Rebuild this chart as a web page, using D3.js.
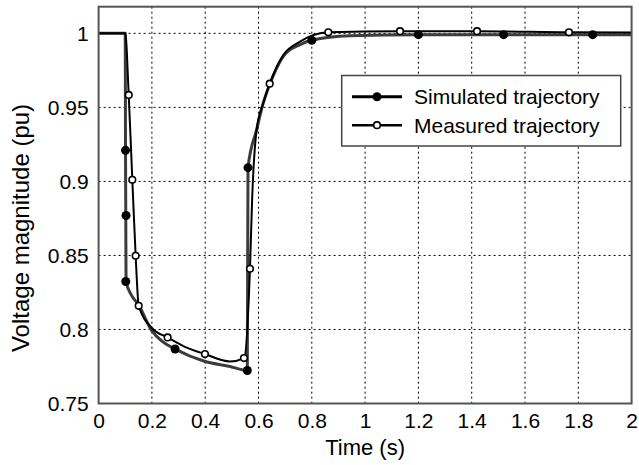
<!DOCTYPE html>
<html>
<head>
<meta charset="utf-8">
<script src="https://cdn.jsdelivr.net/npm/d3@7"></script>
<style>
  body { margin: 0; background: #fff; }
  text { font-family: "Liberation Sans", Arial, sans-serif; fill: #000; }
</style>
</head>
<body>
<svg id="chart" width="639" height="465"></svg>
<script>
// simulated trajectory (thick grey line) - [time s, voltage pu]
const simLine = [
  [0, 1.0], [0.100, 1.0], [0.101, 0.921], [0.102, 0.877], [0.103, 0.8324],
  [0.122, 0.8235], [0.150, 0.8166], [0.200, 0.799], [0.240, 0.7918],
  [0.287, 0.7868], [0.400, 0.7784], [0.493, 0.775], [0.558, 0.7723],
  [0.5606, 0.9093], [0.593, 0.935], [0.618, 0.953], [0.642, 0.9655],
  [0.693, 0.9845], [0.756, 0.9924], [0.80, 0.9953], [0.943, 0.9984],
  [1.2, 0.9991], [1.52, 0.9991], [1.85, 0.9991], [2.0, 0.9991]
];
const simMarkers = [
  [0.101, 0.921], [0.103, 0.877], [0.102, 0.8324], [0.287, 0.7868],
  [0.558, 0.7723], [0.5606, 0.9093], [0.80, 0.9953], [1.2, 0.9991],
  [1.52, 0.9991], [1.854, 0.9991]
];

// measured trajectory (thin black line)
const measLine = [
  [0, 1.0], [0.100, 1.0], [0.113, 0.9584], [0.1265, 0.9011], [0.139, 0.8498],
  [0.1505, 0.816], [0.200, 0.801], [0.259, 0.7946], [0.324, 0.7883],
  [0.399, 0.7834], [0.493, 0.7784], [0.5455, 0.7807], [0.568, 0.841],
  [0.576, 0.8875], [0.593, 0.935], [0.618, 0.953], [0.642, 0.966],
  [0.693, 0.9854], [0.756, 0.9944], [0.862, 1.0007], [1.131, 1.0015],
  [1.42, 1.0015], [1.765, 1.0007], [2.0, 1.0005]
];
const measMarkers = [
  [0.113, 0.9584], [0.1265, 0.9011], [0.139, 0.8498], [0.1505, 0.816],
  [0.259, 0.7946], [0.399, 0.7834], [0.5455, 0.7807], [0.568, 0.841],
  [0.642, 0.966], [0.862, 1.0007], [1.131, 1.0015], [1.42, 1.0015],
  [1.765, 1.0007]
];

const xTicks = [0, 0.2, 0.4, 0.6, 0.8, 1, 1.2, 1.4, 1.6, 1.8, 2];
const yTicks = [0.75, 0.8, 0.85, 0.9, 0.95, 1];
const legendLabels = ["Simulated trajectory", "Measured trajectory"];

const svg = d3.select("#chart");
const L = 98.6, R = 631.6, T = 6.7, B = 403.5;

const x = d3.scaleLinear().domain([0, 2]).range([L, R]);
const y = d3.scaleLinear().domain([0.75, 1.018]).range([B, T]);

// grid (dotted)
svg.append("g").selectAll("line")
  .data(xTicks.slice(1, -1)).join("line")
  .attr("x1", d => x(d)).attr("x2", d => x(d))
  .attr("y1", T).attr("y2", B)
  .attr("stroke", "#000").attr("stroke-width", 1)
  .attr("stroke-dasharray", "2,3");
svg.append("g").selectAll("line")
  .data(yTicks.slice(1)).join("line")
  .attr("x1", L).attr("x2", R)
  .attr("y1", d => y(d)).attr("y2", d => y(d))
  .attr("stroke", "#000").attr("stroke-width", 1)
  .attr("stroke-dasharray", "2,3");

// axes labels
const xAxis = d3.axisBottom(x).tickValues(xTicks).tickSize(0).tickPadding(10)
  .tickFormat(d => String(+d.toFixed(1)));
const gx = svg.append("g").attr("transform", `translate(0,${B})`).call(xAxis);
gx.select(".domain").remove();
gx.selectAll("text").style("font-size", "21px").attr("dy", "0.68em");

const yAxis = d3.axisLeft(y).tickValues(yTicks).tickSize(0).tickPadding(10)
  .tickFormat(d => String(+d.toFixed(2)));
const gy = svg.append("g").attr("transform", `translate(${L},0)`).call(yAxis);
gy.select(".domain").remove();
gy.selectAll("text").style("font-size", "21px");

// lines
const line = d3.line().x(d => x(d[0])).y(d => y(d[1])).curve(d3.curveMonotoneX);
svg.append("path").datum(simLine).attr("d", line)
  .attr("fill", "none").attr("stroke", "#3c3c3c").attr("stroke-width", 3)
  .attr("stroke-linejoin", "round");
svg.append("path").datum(measLine).attr("d", line)
  .attr("fill", "none").attr("stroke", "#000").attr("stroke-width", 2)
  .attr("stroke-linejoin", "round");

svg.append("g").selectAll("circle")
  .data(simMarkers).join("circle")
  .attr("cx", d => x(d[0])).attr("cy", d => y(d[1])).attr("r", 4.5)
  .attr("fill", "#000");
svg.append("g").selectAll("circle")
  .data(measMarkers).join("circle")
  .attr("cx", d => x(d[0])).attr("cy", d => y(d[1])).attr("r", 3.3)
  .attr("fill", "#fff").attr("stroke", "#000").attr("stroke-width", 1.6);

// frame
svg.append("rect").attr("x", L).attr("y", T).attr("width", R - L).attr("height", B - T)
  .attr("fill", "none").attr("stroke", "#555").attr("stroke-width", 2);

// legend
const lg = svg.append("g");
lg.append("rect").attr("x", 341.7).attr("y", 75.5).attr("width", 279).attr("height", 70.5)
  .attr("fill", "#fff").attr("stroke", "#444").attr("stroke-width", 1.5);
legendLabels.forEach((lab, i) => {
  const yy = 96.7 + i * 28.5;
  lg.append("line").attr("x1", 352).attr("x2", 402).attr("y1", yy).attr("y2", yy)
    .attr("stroke", "#000").attr("stroke-width", i === 0 ? 3 : 2.5);
  if (i === 0) {
    lg.append("circle").attr("cx", 377).attr("cy", yy).attr("r", 4.5).attr("fill", "#000");
  } else {
    lg.append("circle").attr("cx", 377).attr("cy", yy).attr("r", 3.3)
      .attr("fill", "#fff").attr("stroke", "#000").attr("stroke-width", 1.6);
  }
  lg.append("text").attr("x", 414).attr("y", yy).attr("dy", "0.35em")
    .style("font-size", "21px").text(lab);
});

// axis titles
svg.append("text").attr("x", x(1)).attr("y", 455).attr("text-anchor", "middle")
  .style("font-size", "22px").text("Time (s)");
svg.append("text").attr("transform", `translate(29,228) rotate(-90)`)
  .attr("text-anchor", "middle").style("font-size", "24px").text("Voltage magnitude (pu)");
</script>
</body>
</html>
